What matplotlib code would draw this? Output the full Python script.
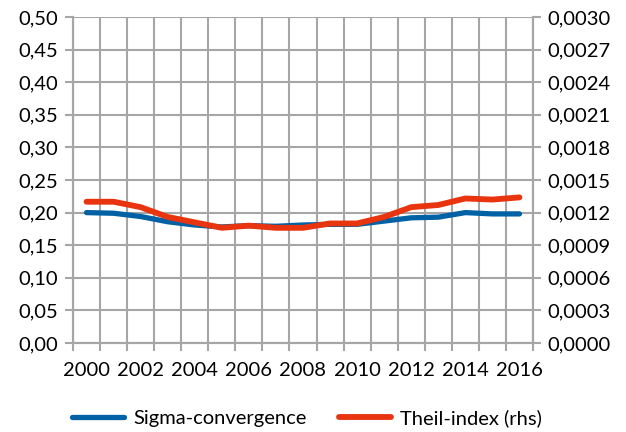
import numpy as np
import matplotlib.pyplot as plt
from matplotlib.ticker import FixedLocator, FuncFormatter

plt.rcParams['font.family'] = ['Lato', 'DejaVu Sans']

years = list(range(2000, 2017))
sigma = [0.200, 0.199, 0.194, 0.186, 0.181, 0.178, 0.180, 0.179, 0.181, 0.182,
         0.182, 0.187, 0.192, 0.193, 0.200, 0.198, 0.198]
theil = [0.00130, 0.00130, 0.00125, 0.00116, 0.00111, 0.00106, 0.00108, 0.00106,
         0.00106, 0.00110, 0.00110, 0.00116, 0.00125, 0.00127, 0.00133, 0.00132,
         0.00134]

grid_c = '#a6a6a6'
blue = '#0062a4'
red = '#e8340f'

fig = plt.figure(figsize=(6.26, 4.32), dpi=100)
ax = fig.add_axes([73 / 626, 89 / 432, 460 / 626, 326 / 432])
ax2 = ax.twinx()

x = np.arange(len(years))
l1, = ax.plot(x, sigma, color=blue, lw=3.8, solid_capstyle='round', zorder=3)
l2, = ax2.plot(x, theil, color=red, lw=4.2, solid_capstyle='round', zorder=3)

ax.set_xlim(-0.5, len(years) - 0.5)
ax.set_ylim(0, 0.5)
ax2.set_ylim(0, 0.003)

ax.set_yticks(np.arange(0, 0.501, 0.05))
ax.yaxis.set_major_formatter(FuncFormatter(lambda v, p: f'{v:.2f}'.replace('.', ',')))
ax2.set_yticks(np.arange(0, 0.00301, 0.0003))
ax2.yaxis.set_major_formatter(FuncFormatter(lambda v, p: f'{v:.4f}'.replace('.', ',')))

ax.set_xticks(x[::2])
ax.set_xticklabels([str(y) for y in years[::2]])
ax.xaxis.set_minor_locator(FixedLocator(np.arange(-0.5, len(years), 1.0)))

ax.grid(True, axis='y', which='major', color=grid_c, lw=1.5)
ax.grid(True, axis='x', which='minor', color=grid_c, lw=1.5)
ax.set_axisbelow(True)

ax.tick_params(axis='x', which='major', length=0, labelsize=14.5, pad=14)
ax.tick_params(axis='x', which='minor', length=6, width=1.5, color=grid_c)
ax.tick_params(axis='y', length=6, width=1.5, color=grid_c, labelsize=14.5, pad=5)
ax2.tick_params(axis='y', length=6, width=1.5, color=grid_c, labelsize=14.5, pad=4)

for a in (ax, ax2):
    for s in a.spines.values():
        s.set_color(grid_c)
        s.set_linewidth(1.5)
    a.spines['top'].set_visible(False)

fig.legend([l1, l2], ['Sigma-convergence', 'Theil-index (rhs)'],
           loc='lower center', bbox_to_anchor=(0.49, -0.03), ncol=2, frameon=False,
           fontsize=14.5, handlelength=2.6, handletextpad=0.45, columnspacing=1.6)

fig.savefig('out.png', dpi=100)
